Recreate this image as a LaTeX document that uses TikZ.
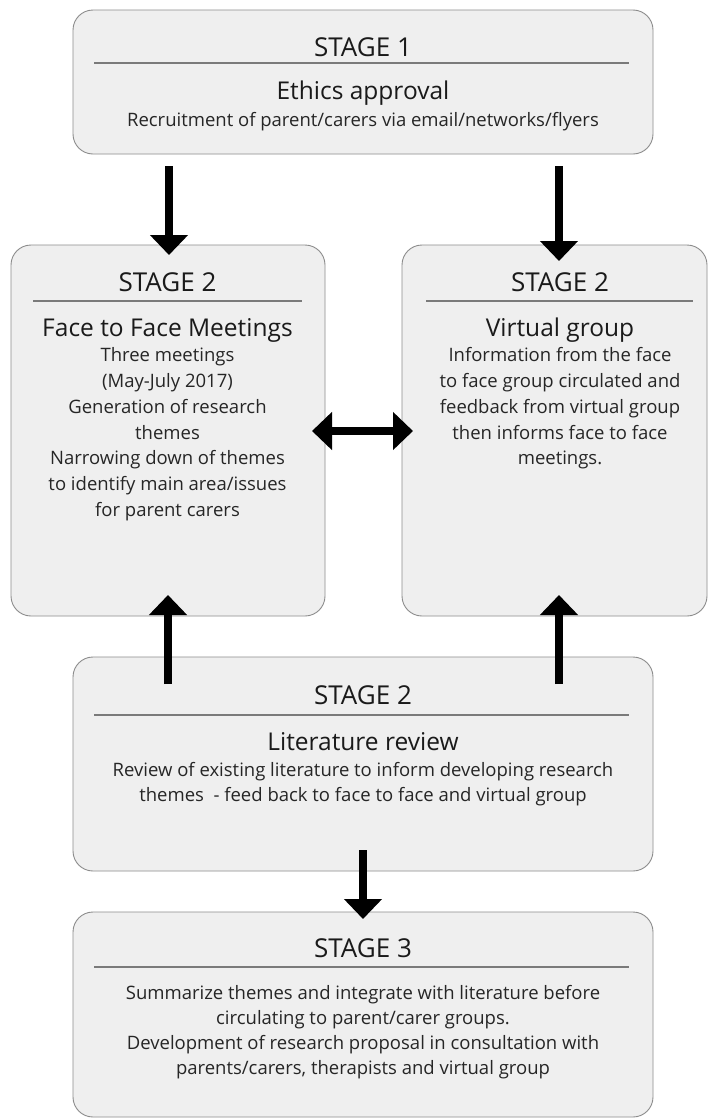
\documentclass[tikz,border=0pt]{standalone}
\usepackage{fontspec}
\setmainfont{Open Sans}
\usetikzlibrary{arrows.meta}
\definecolor{boxfill}{HTML}{EFEFEF}
\definecolor{boxline}{HTML}{8C8C8C}
\definecolor{rulecol}{HTML}{7A7A7A}
\definecolor{txt}{HTML}{1A1A1A}
\definecolor{bodytxt}{HTML}{262626}
\begin{document}
\begin{tikzpicture}[x=1pt,y=-1pt,
  stagebox/.style={draw=boxline, fill=boxfill, line width=0.9pt, rounded corners=20pt, inner sep=0pt},
  divider/.style={draw=rulecol, line width=1.1pt},
  title/.style={font=\fontsize{26}{30}\selectfont, text=txt, anchor=base, inner sep=0pt},
  sub/.style={font=\fontsize{24.5}{28}\selectfont, text=txt, anchor=base, inner sep=0pt},
  body/.style={font=\fontsize{18.5}{22}\selectfont, text=bodytxt, anchor=base, inner sep=0pt},
  arr/.style={line width=8.5pt, -{Triangle[width=37pt,length=20pt]}},
  dblarr/.style={line width=8.5pt, {Triangle[width=37pt,length=20pt]}-{Triangle[width=37pt,length=20pt]}}
]
\fill[white] (0,0) rectangle (709,1119);
\useasboundingbox (0,0) rectangle (709,1119);

% boxes
\node[stagebox, minimum width=580pt, minimum height=144pt] (s1) at (363,82) {};
\node[stagebox, minimum width=314pt, minimum height=371pt] (ff) at (168,430.5) {};
\node[stagebox, minimum width=305pt, minimum height=371pt] (vg) at (554.5,430.5) {};
\node[stagebox, minimum width=580pt, minimum height=214pt] (lit) at (363,764) {};
\node[stagebox, minimum width=580pt, minimum height=205pt] (s3) at (363,1014.5) {};

% dividers
\draw[divider] (94,63) -- (629,63);
\draw[divider] (33,301) -- (302,301);
\draw[divider] (426,301) -- (693,301);
\draw[divider] (94,715) -- (629,715);
\draw[divider] (94,967) -- (629,967);

% stage 1 text
\node[title] (s1t) at (363,56.3) {STAGE 1};
\node[sub] (s1s) at (363,99.7) {Ethics approval};
\node[body] (s1b) at (363,126.6) {Recruitment of parent/carers via email/networks/flyers};

% face to face text
\node[title] (fft) at (167.5,291.3) {STAGE 2};
\node[sub] (ffs) at (167.5,336.7) {Face to Face Meetings};
\node[body] (ffb1) at (167.5,361.6) {Three meetings};
\node[body] (ffb2) at (167.5,387.6) {(May-July 2017)};
\node[body] (ffb3) at (167.5,413.6) {Generation of research};
\node[body] (ffb4) at (167.5,439.6) {themes};
\node[body] (ffb5) at (167.5,464.6) {Narrowing down of themes};
\node[body] (ffb6) at (167.5,490.6) {to identify main area/issues};
\node[body] (ffb7) at (167.5,516.6) {for parent carers};

% virtual group text
\node[title] (vgt) at (560,291.3) {STAGE 2};
\node[sub] (vgs) at (560,336.7) {Virtual group};
\node[body] (vgb1) at (560,361.6) {Information from the face};
\node[body] (vgb2) at (560,387.6) {to face group circulated and};
\node[body] (vgb3) at (560,413.6) {feedback from virtual group};
\node[body] (vgb4) at (560,439.6) {then informs face to face};
\node[body] (vgb5) at (560,464.6) {meetings.};

% literature text
\node[title] (litt) at (363,704.3) {STAGE 2};
\node[sub] (lits) at (363,750.7) {Literature review};
\node[body] (litb1) at (363,776.6) {Review of existing literature to inform developing research};
\node[body] (litb2) at (363,801.6) {themes\ \ - feed back to face to face and virtual group};

% stage 3 text
\node[title] (s3t) at (363,957.3) {STAGE 3};
\node[body] (s3b1) at (363,999.6) {Summarize themes and integrate with literature before};
\node[body] (s3b2) at (363,1024.6) {circulating to parent/carer groups.};
\node[body] (s3b3) at (363,1049.6) {Development of research proposal in consultation with};
\node[body] (s3b4) at (363,1074.6) {parents/carers, therapists and virtual group};

% arrow end points
\coordinate (a1s) at (169,166);
\coordinate (a1e) at (169,255);
\coordinate (a2s) at (559,166);
\coordinate (a2e) at (559,261);
\coordinate (dl) at (312,431);
\coordinate (dr) at (413,431);
\coordinate (u1s) at (168,684);
\coordinate (u1e) at (168,595);
\coordinate (u2s) at (559,684);
\coordinate (u2e) at (559,595);
\coordinate (d3s) at (363,850);
\coordinate (d3e) at (363,919);

\draw[arr] (a1s) -- (a1e);
\draw[arr] (a2s) -- (a2e);
\draw[dblarr] (dl) -- (dr);
\draw[arr] (u1s) -- (u1e);
\draw[arr] (u2s) -- (u2e);
\draw[arr] (d3s) -- (d3e);
\end{tikzpicture}
\end{document}
